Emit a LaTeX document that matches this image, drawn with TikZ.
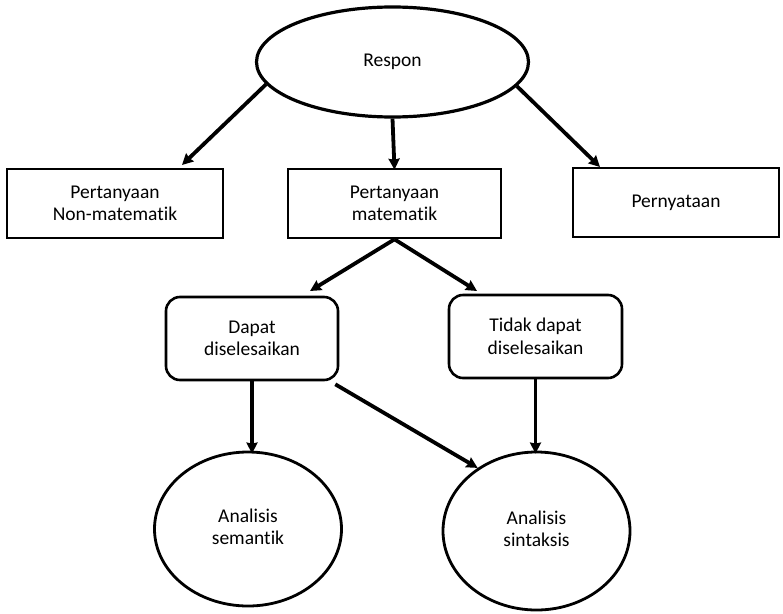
\documentclass[tikz,border=0pt]{standalone}
\usepackage{fontspec}
\setmainfont{Carlito}[Ligatures=NoCommon]
\usetikzlibrary{shapes.geometric,arrows.meta}
\newcommand{\liftedtext}[1]{\raisebox{5pt}{\begin{tabular}{@{}c@{}}#1\end{tabular}}}
\begin{document}
\begin{tikzpicture}[x=1pt,y=-1pt,
  every node/.style={font=\fontsize{19.5}{22.5}\selectfont, align=center, inner sep=0pt, text=black},
  sqbox/.style={draw, rectangle, line width=2.6pt, minimum height=69pt},
  rbox/.style={draw, rectangle, rounded corners=14pt, line width=2.6pt, minimum height=83pt},
  oval/.style={draw, ellipse, line width=3.2pt},
  arr/.style={line width=3.8pt, -{Stealth[length=11pt,width=11pt,inset=1pt]}}
]
\useasboundingbox (0,0) rectangle (783,613);
\node[oval, minimum width=272pt, minimum height=110pt] (respon) at (392.5,62) {Respon};
\node[sqbox, minimum width=216pt] (b1) at (115,203.5) {Pertanyaan\\Non-matematik};
\node[sqbox, minimum width=213pt] (b2) at (394.5,203.5) {Pertanyaan\\matematik};
\node[sqbox, minimum width=206pt] (b3) at (676,202.5) {Pernyataan};
\node[rbox, minimum width=172pt] (dapat) at (252,338.5) {Dapat\\diselesaikan};
\node[rbox, minimum width=173pt] (tidak) at (535.5,336.5) {Tidak dapat\\diselesaikan};
\node[oval, line width=2.8pt, minimum width=187pt, minimum height=154pt] (sem) at (248,529) {\liftedtext{Analisis\\semantik}};
\node[oval, line width=2.8pt, minimum width=187pt, minimum height=158pt] (sin) at (536.5,531) {\liftedtext{Analisis\\sintaksis}};
\coordinate (t1) at (182,165);
\coordinate (t3) at (600,167);
\coordinate (t4) at (310,291);
\coordinate (t5) at (477,291);
\draw[arr] (respon.190) -- (t1);
\draw[arr] (respon.south) -- ([yshift=-2pt]b2.north);
\draw[arr] (respon.349) -- (t3);
\draw[arr] (b2.south) -- (t4);
\draw[arr] (b2.south) -- (t5);
\draw[arr] (dapat.south) -- ([yshift=-3pt]dapat.south |- sem.north);
\draw[arr] (tidak.south) -- ([yshift=-3pt]tidak.south |- sin.north);
\draw[arr] ([xshift=-4pt,yshift=-3pt]dapat.south east) -- (sin.133);
\end{tikzpicture}
\end{document}
